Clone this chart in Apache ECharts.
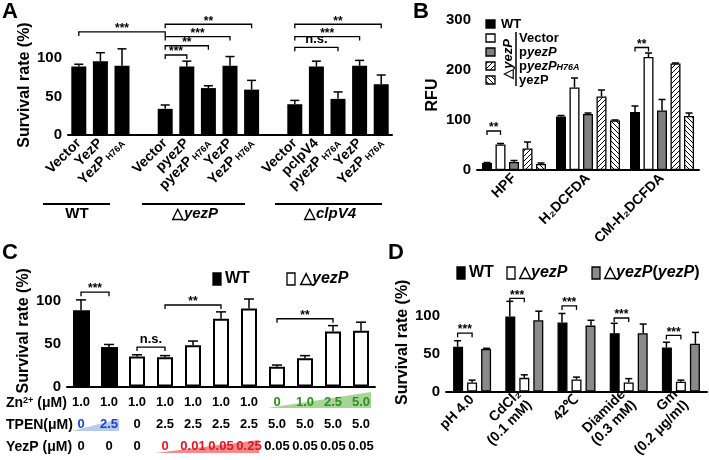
<!DOCTYPE html>
<html>
<head>
<meta charset="utf-8">
<script src="https://cdn.jsdelivr.net/npm/echarts@6/dist/echarts.min.js"></script>
<style>
  html, body { margin: 0; padding: 0; background: #fff; }
  #chart { width: 709px; height: 460px; }
</style>
</head>
<body>
<div id="chart"></div>
<script>
const FONT = '"Liberation Sans", Arial, Helvetica, sans-serif';

// ---- A: survival of WT / yezP / clpV4 strains
const aNames = ['Vector', 'YezP', 'YezP H76A', '', 'Vector', 'pyezP', 'pyezP H76A', 'YezP', 'YezP H76A',
  '', 'Vector', 'pclpV4', 'pyezP H76A', 'YezP', 'YezP H76A'];
const aMean = [89, 96, 90, null, 34, 89, 61, 90, 59, null, 40, 89, 47, 90, 66];
const aErr = [3, 11, 22, null, 5, 7, 3, 12, 12, null, 5, 7, 9, 7, 12];
// [cat1, bar1, cat2, bar2, y, label]
const aSig = [
  [0, 0, 4, 0, 134, '***'], [4, 0, 8, 0, 144, '**'], [4, 0, 7, 0, 128, '***'],
  [4, 0, 6, 0, 116, '**'], [4, 0, 5, 0, 104, '***'],
  [10, 0, 14, 0, 144, '**'], [10, 0, 13, 0, 128, '***'], [10, 0, 12, 0, 114, 'n.s.']
];
const aGroups = ['WT', 'yezP', 'clpV4'];

// ---- B: ROS probes
const bCats = ['HPF', 'H₂DCFDA', 'CM-H₂DCFDA'];
const bSeries = ['WT', 'Vector', 'pyezP', 'pyezP H76A', 'yezP'];
const bWT = [14, 107, 116];
const bVector = [51, 165, 226];
const bPyezP = [16, 112, 119];
const bH76A = [43, 147, 213];
const bYezP = [12, 99, 108];
const bWTErr = [1, 2, 12];
const bVectorErr = [2, 19, 8];
const bPyezPErr = [3, 2, 22];
const bH76AErr = [13, 13, 1];
const bYezPErr = [2, 1, 6];
const bSig = [[0, 0, 0, 1, 78, '**'], [2, 0, 2, 1, 245, '**']];

// ---- C: zinc / TPEN / YezP
const cMean = [89, 46, 35, 34, 48, 79, 91, 23, 33, 64, 65];
const cErr = [12, 3, 2, 2, 5, 8, 11, 2, 3, 7, 10];
const cStrain = ['WT', 'WT', 'yezP', 'yezP', 'yezP', 'yezP', 'yezP', 'yezP', 'yezP', 'yezP', 'yezP'];
const cZn = ['1.0', '1.0', '1.0', '1.0', '1.0', '1.0', '1.0', '0', '1.0', '2.5', '5.0'];
const cTPEN = ['0', '2.5', '0', '2.5', '2.5', '2.5', '2.5', '5.0', '5.0', '5.0', '5.0'];
const cYezP = ['0', '0', '0', '0', '0.01', '0.05', '0.25', '0.05', '0.05', '0.05', '0.05'];
const cSig = [[0, 0, 1, 0, 110, '***'], [2, 0, 3, 0, 46, 'n.s.'], [3, 0, 5, 0, 95, '**'], [7, 0, 9, 0, 79, '**']];

// ---- D: stress survival
const dCats = ['pH 4.0', 'CdCl₂\n(0.1 mM)', '42℃', 'Diamide\n(0.3 mM)', 'Gm\n(0.2 μg/ml)'];
const dWT = [59, 99, 91, 77, 58];
const dYezP = [12, 18, 16, 12, 13];
const dComp = [56, 94, 87, 77, 63];
const dWTErr = [8, 20, 12, 13, 7];
const dYezPErr = [3, 4, 3, 5, 2];
const dCompErr = [1, 12, 7, 12, 15];
const dSig = [[0, 0, 0, 1, 77, '***'], [1, 0, 1, 1, 123, '***'], [2, 0, 2, 1, 113, '***'], [3, 0, 3, 1, 97, '***'], [4, 0, 4, 1, 74, '***']];

function hatch(dir) {
  const c = document.createElement('canvas');
  c.width = 5; c.height = 5;
  const g = c.getContext('2d');
  g.fillStyle = '#fff';
  g.fillRect(0, 0, 5, 5);
  g.strokeStyle = '#000';
  g.lineWidth = 1;
  g.beginPath();
  for (let k = -1; k <= 1; k++) {
    if (dir > 0) { g.moveTo(k * 5, 5); g.lineTo(k * 5 + 5, 0); }
    else { g.moveTo(k * 5, 0); g.lineTo(k * 5 + 5, 5); }
  }
  g.stroke();
  return { image: c, repeat: 'repeat' };
}
const HATCH1 = hatch(1);
const HATCH2 = hatch(-1);

const axisStyle = {
  axisLine: { lineStyle: { color: '#000', width: 2 } },
  axisTick: { length: 4, lineStyle: { color: '#000', width: 2 } },
  splitLine: { show: false }
};
const boldLabel = { color: '#000', fontWeight: 'bold', fontSize: 14, fontFamily: FONT };

function yAxisFor(grid, max, interval, name, gap) {
  const ticks = [];
  for (let v = 0; v <= max; v += interval) ticks.push(v);
  return Object.assign({}, axisStyle, {
    type: 'value', gridIndex: grid, min: 0, max: max, interval: interval,
    name: name, nameLocation: 'middle', nameGap: gap,
    nameTextStyle: { color: '#000', fontWeight: 'bold', fontSize: 16, fontFamily: FONT },
    axisTick: { length: 4, lineStyle: { color: '#000', width: 2 }, customValues: ticks },
    axisLabel: Object.assign({ margin: 6, customValues: ticks }, boldLabel, { fontSize: 15 })
  });
}

function errSeries(xi, mean, err, k, nBars, pitch, capW) {
  const data = [];
  mean.forEach((m, i) => { if (m != null) data.push([i, m, m + err[i]]); });
  return {
    type: 'custom', xAxisIndex: xi, yAxisIndex: xi, clip: false, silent: true, z: 4,
    encode: { x: 0, y: [1, 2] },
    data: data,
    renderItem(params, api) {
      const off = (k - (nBars - 1) / 2) * pitch;
      const p1 = api.coord([api.value(0), api.value(1)]);
      const p2 = api.coord([api.value(0), api.value(2)]);
      const x = p1[0] + off;
      const st = { stroke: '#000', lineWidth: 1.5 };
      return {
        type: 'group', children: [
          { type: 'line', shape: { x1: x, y1: p1[1], x2: x, y2: p2[1] }, style: st },
          { type: 'line', shape: { x1: x - capW / 2, y1: p2[1], x2: x + capW / 2, y2: p2[1] }, style: st }
        ]
      };
    }
  };
}

function sigSeries(xi, items, nBars, pitch) {
  return {
    type: 'custom', xAxisIndex: xi, yAxisIndex: xi, clip: false, silent: true, z: 5,
    data: items.map(d => [d[0], d[4]]),
    renderItem(params, api) {
      const d = items[params.dataIndex];
      const off = k => (k - (nBars - 1) / 2) * pitch;
      const p1 = api.coord([d[0], d[4]]);
      const p2 = api.coord([d[2], d[4]]);
      const x1 = p1[0] + off(d[1]);
      const x2 = p2[0] + off(d[3]);
      const y = p1[1];
      const ns = d[5] === 'n.s.';
      return {
        type: 'group', children: [
          { type: 'polyline', shape: { points: [[x1, y + 4], [x1, y], [x2, y], [x2, y + 4]] },
            style: { stroke: '#000', lineWidth: 1.3, fill: null } },
          { type: 'text', x: (x1 + x2) / 2, y: ns ? y - 1 : y + 3,
            style: { text: d[5], fill: '#000', fontSize: ns ? 13 : 12, fontWeight: 'bold', fontFamily: FONT,
              align: 'center', verticalAlign: 'bottom', textAlign: 'center', textVerticalAlign: 'bottom' } }
        ]
      };
    }
  };
}

function subFmt(v) {
  const m = v.match(/^(.*) (H76A)$/);
  return m ? '{m|' + m[1] + '}{s| ' + m[2] + '}' : '{m|' + v + '}';
}
const subRich = {
  m: { fontSize: 14, fontWeight: 'bold', fontFamily: FONT, color: '#000' },
  s: { fontSize: 9, fontWeight: 'bold', fontFamily: FONT, color: '#000', verticalAlign: 'bottom' }
};

const series = [];
// A
series.push({ type: 'bar', xAxisIndex: 0, yAxisIndex: 0, barWidth: 15,
  data: aMean.map(v => v == null ? '-' : v), itemStyle: { color: '#000' } });
series.push(errSeries(0, aMean, aErr, 0, 1, 0, 9));
series.push(sigSeries(0, aSig, 1, 0));
// B
const bVals = [bWT, bVector, bPyezP, bH76A, bYezP];
const bErrs = [bWTErr, bVectorErr, bPyezPErr, bH76AErr, bYezPErr];
const bFill = ['#000', '#fff', '#808080', HATCH1, HATCH2];
bVals.forEach((vals, k) => {
  series.push({ type: 'bar', name: bSeries[k], xAxisIndex: 1, yAxisIndex: 1, barWidth: 10, barGap: '35%',
    data: vals, itemStyle: { color: bFill[k], borderColor: '#000', borderWidth: 1.3 } });
});
bVals.forEach((vals, k) => series.push(errSeries(1, vals, bErrs[k], k, 5, 13.5, 7)));
series.push(sigSeries(1, bSig, 5, 13.5));
// C
series.push({ type: 'bar', name: 'WT', xAxisIndex: 2, yAxisIndex: 2, barWidth: 17, barGap: '-100%',
  data: cMean.map((v, i) => cStrain[i] === 'WT' ? v : '-'), itemStyle: { color: '#000' } });
series.push({ type: 'bar', name: 'yezP', xAxisIndex: 2, yAxisIndex: 2, barWidth: 16, barGap: '-100%',
  data: cMean.map((v, i) => cStrain[i] === 'yezP' ? v : '-'),
  itemStyle: { color: '#fff', borderColor: '#000', borderWidth: 2 } });
series.push(errSeries(2, cMean, cErr, 0, 1, 0, 10));
series.push(sigSeries(2, cSig, 1, 0));
// D
const dVals = [dWT, dYezP, dComp];
const dErrs = [dWTErr, dYezPErr, dCompErr];
const dFill = ['#000', '#fff', '#8a8a8a'];
dVals.forEach((vals, k) => {
  series.push({ type: 'bar', xAxisIndex: 3, yAxisIndex: 3, barWidth: 10, barGap: '40%',
    data: vals, itemStyle: { color: dFill[k], borderColor: '#000', borderWidth: 1.3 } });
});
dVals.forEach((vals, k) => series.push(errSeries(3, vals, dErrs[k], k, 3, 14.5, 7)));
series.push(sigSeries(3, dSig, 3, 14.5));

const tableAxis = (data, offset, colorFn) => ({
  type: 'category', gridIndex: 2, data: data, position: 'bottom', offset: offset,
  axisLine: { show: false }, axisTick: { show: false }, splitLine: { show: false },
  axisLabel: { interval: 0, margin: 0, fontSize: 13, fontWeight: 'bold', fontFamily: FONT, color: colorFn }
});

const option = {
  animation: false,
  backgroundColor: '#fff',
  grid: [
    { left: 68, top: 35, width: 324, height: 100 },
    { left: 477, top: 20, width: 222, height: 150 },
    { left: 67, top: 275, width: 308, height: 111.5 },
    { left: 446, top: 293, width: 261, height: 98.5 }
  ],
  xAxis: [
    Object.assign({}, axisStyle, { type: 'category', gridIndex: 0, data: aNames,
      axisTick: { alignWithLabel: true, length: 4, lineStyle: { color: '#000', width: 2 } },
      axisLabel: { interval: 0, rotate: 45, margin: 6, formatter: subFmt, rich: subRich } }),
    Object.assign({}, axisStyle, { type: 'category', gridIndex: 1, data: bCats,
      axisTick: { alignWithLabel: true, length: 4, lineStyle: { color: '#000', width: 2 } },
      axisLabel: Object.assign({ interval: 0, rotate: 45, margin: 6 }, boldLabel) }),
    Object.assign({}, axisStyle, { type: 'category', gridIndex: 2, data: cZn.map((_, i) => 'c' + i),
      axisTick: { show: false }, axisLabel: { show: false } }),
    Object.assign({}, axisStyle, { type: 'category', gridIndex: 3, data: dCats,
      axisTick: { alignWithLabel: true, length: 4, lineStyle: { color: '#000', width: 2 } },
      axisLabel: Object.assign({ interval: 0, rotate: 45, margin: 6, lineHeight: 15 }, boldLabel) }),
    tableAxis(cZn, 9, (v, i) => i >= 7 ? '#2f8f1f' : '#000'),
    tableAxis(cTPEN, 31, (v, i) => i <= 1 ? '#1d3fd0' : '#000'),
    tableAxis(cYezP, 53, (v, i) => (i >= 3 && i <= 6) ? '#e4161f' : '#000')
  ],
  yAxis: [
    yAxisFor(0, 130, 50, 'Survival rate (%)', 32),
    yAxisFor(1, 300, 100, 'RFU', 36),
    yAxisFor(2, 130, 50, 'Survival rate (%)', 32),
    yAxisFor(3, 130, 50, 'Survival rate (%)', 32)
  ],
  series: series
};

const chart = echarts.init(document.getElementById('chart'));
chart.setOption(option);

// ---- annotations (letters, legends, group labels, gradient wedges)
const g = [];
function text(x, y, t, opt) {
  g.push({ type: 'text', x: x, y: y, rotation: (opt && opt.rotation) || 0, z: 10,
    style: Object.assign({ text: t, fill: '#000', fontSize: 15, fontWeight: 'bold', fontFamily: FONT,
      align: 'left', verticalAlign: 'middle', textAlign: 'left', textVerticalAlign: 'middle' }, opt && opt.style) });
}
function line(x1, y1, x2, y2, w) {
  g.push({ type: 'line', z: 10, shape: { x1: x1, y1: y1, x2: x2, y2: y2 }, style: { stroke: '#000', lineWidth: w || 2 } });
}
function box(x, y, w, h, fill) {
  g.push({ type: 'rect', z: 10, shape: { x: x, y: y, width: w, height: h }, style: { fill: fill, stroke: '#000', lineWidth: 1.3 } });
}
const italRich = {
  n: { fontSize: 15, fontWeight: 'bold', fontFamily: FONT, color: '#000' },
  i: { fontSize: 15, fontWeight: 'bold', fontStyle: 'italic', fontFamily: FONT, color: '#000' }
};

// panel letters
text(2, 12, 'A', { style: { fontSize: 22 } });
text(413, 12, 'B', { style: { fontSize: 22 } });
text(2, 253, 'C', { style: { fontSize: 22 } });
text(388, 253, 'D', { style: { fontSize: 22 } });

// A group labels
line(43, 204, 110, 204);
line(142, 204, 245, 204);
line(275, 204, 382, 204);
text(77, 214, 'WT', { style: { align: 'center', textAlign: 'center' } });
text(195, 214, '{n|△}{i|' + aGroups[1] + '}', { style: { align: 'center', textAlign: 'center', rich: italRich } });
text(330, 214, '{n|△}{i|' + aGroups[2] + '}', { style: { align: 'center', textAlign: 'center', rich: italRich } });

// B legend
const bRich = {
  n: { fontSize: 13, fontWeight: 'bold', fontFamily: FONT, color: '#000' },
  i: { fontSize: 13, fontWeight: 'bold', fontStyle: 'italic', fontFamily: FONT, color: '#000' },
  s: { fontSize: 9, fontWeight: 'bold', fontStyle: 'italic', fontFamily: FONT, color: '#000', verticalAlign: 'bottom' }
};
const bLegendText = ['{n|WT}', '{n|Vector}', '{n|p}{i|yezP}', '{n|p}{i|yezP}{s|H76A}', '{n|yezP}'];
bFill.forEach((f, k) => {
  const y = 24 + k * 14;
  box(486, y - 4, 9, 8, f);
  text(k === 0 ? 501 : 519, y, bLegendText[k], { style: { rich: bRich } });
});
line(516, 32, 516, 86, 1.5);
text(508, 59, '{n|△}{i|yezP}', { rotation: Math.PI / 2, style: { align: 'center', textAlign: 'center', rich: bRich } });

// C legend
box(213, 273, 8, 12, '#000');
text(225, 279, 'WT', { style: { fontSize: 16 } });
box(287, 273, 8, 12, '#fff');
text(300, 279, '{n|△}{i|yezP}', { style: { rich: { n: Object.assign({}, italRich.n, { fontSize: 16 }), i: Object.assign({}, italRich.i, { fontSize: 16 }) } } });

// C table row labels
const rowRich = {
  n: { fontSize: 14, fontWeight: 'bold', fontFamily: FONT, color: '#000' },
  sup: { fontSize: 9, fontWeight: 'bold', fontFamily: FONT, color: '#000', verticalAlign: 'top' }
};
text(6, 403, '{n|Zn}{sup|2+}{n| (μM)}', { style: { rich: rowRich } });
text(6, 425, '{n|TPEN(μM)}', { style: { rich: rowRich } });
text(6, 447, '{n|YezP (μM)}', { style: { rich: rowRich } });

// C wedges behind the concentration rows
const px = i => chart.convertToPixel({ xAxisIndex: 2 }, i);
const band = px(1) - px(0);
function wedge(i0, i1, yb, h, color) {
  const xl = px(i0) - band * 0.33, xr = px(i1) + band * 0.36;
  g.push({ type: 'polygon', z: -1, shape: { points: [[xl, yb], [xr, yb], [xr, yb - h]] }, style: { fill: color } });
}
wedge(0, 1, 431, 12, '#b5cbee');
wedge(3, 6, 453, 13, '#f38a8d');
wedge(7, 10, 408, 16, '#a6d597');

// D legend
box(457, 267, 8, 12, '#000');
text(469, 273, 'WT', { style: { fontSize: 16 } });
box(507, 267, 8, 12, '#fff');
const dRich = { n: Object.assign({}, italRich.n, { fontSize: 16 }), i: Object.assign({}, italRich.i, { fontSize: 16 }) };
text(519, 273, '{n|△}{i|yezP}', { style: { rich: dRich } });
box(592, 267, 8, 12, '#8a8a8a');
text(604, 273, '{n|△}{i|yezP}{n|(}{i|yezP}{n|)}', { style: { rich: dRich } });

chart.setOption({ graphic: g });
</script>
</body>
</html>
